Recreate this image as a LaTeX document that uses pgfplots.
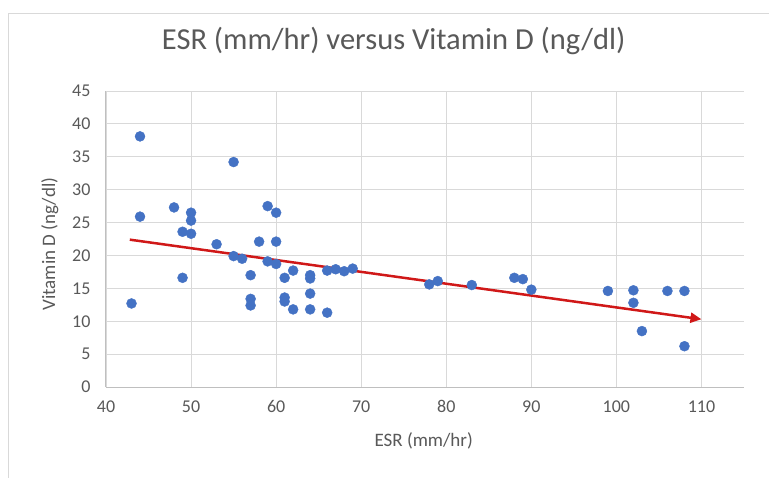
\documentclass[border=0pt]{standalone}
\usepackage{fontspec}
\setmainfont{Carlito}
\usepackage{pgfplots}
\pgfplotsset{compat=1.18}
\usetikzlibrary{arrows.meta}
\definecolor{txt}{HTML}{595959}
\definecolor{grd}{HTML}{D9D9D9}
\definecolor{axl}{HTML}{BFBFBF}
\definecolor{dots}{HTML}{4472C4}
\definecolor{trend}{HTML}{D01818}
\begin{document}
\begin{tikzpicture}[x=1pt,y=1pt]
\useasboundingbox (0pt,0pt) rectangle (769pt,477pt);
\fill[white] (0pt,0pt) rectangle (769pt,477pt);
\draw[grd, line width=1pt] (8pt,-5pt) -- (8pt,463.5pt) -- (775pt,463.5pt);
\begin{axis}[
  at={(106pt,90pt)}, anchor=south west,
  scale only axis, width=638pt, height=296pt,
  xmin=40, xmax=115, ymin=0, ymax=45,
  xtick={40,50,...,110}, ytick={0,5,...,45},
  grid=major, major grid style={grd, line width=0.9pt},
  axis x line*=bottom, axis y line*=left,
  axis line style={-, axl, line width=1pt},
  major tick length=0pt,
  /pgf/number format/assume math mode=true,
  tick label style={text=txt, font=\fontsize{18}{20}\selectfont},
  xticklabel style={yshift=-10pt},
  yticklabel style={xshift=-12pt},
  title={ESR (mm/hr) versus Vitamin D (ng/dl)},
  title style={at={(axis description cs:0.451,1.149)}, anchor=center, text=txt, font=\fontsize{30.5}{33}\selectfont},
  xlabel={ESR (mm/hr)},
  xlabel style={at={(axis description cs:0.498,-0.182)}, anchor=center, text=txt, font=\fontsize{19}{22}\selectfont},
  ylabel={Vitamin D (ng/dl)},
  ylabel style={at={(axis description cs:-0.088,0.483)}, anchor=center, rotate=0, text=txt, font=\fontsize{19}{22}\selectfont},
  clip=false,
]
\addplot[only marks, mark=*, mark size=5pt, color=dots, mark options={draw=dots, fill=dots}] coordinates {
(43,12.7) (44,38.1) (44,25.9) (48,27.3) (49,23.6) (49,16.6)
(50,26.5) (50,25.3) (50,23.3) (53,21.7) (55,34.2) (55,19.9)
(56,19.5) (57,17.0) (57,13.4) (57,12.4) (58,22.1) (59,27.5)
(59,19.1) (60,26.5) (60,22.1) (60,18.7) (61,16.6) (61,13.6)
(61,13.0) (62,17.7) (62,11.8) (64,17.0) (64,16.5) (64,14.2)
(64,11.8) (66,17.7) (66,11.3) (67,17.9) (68,17.6) (69,18.0)
(78,15.6) (79,16.1) (83,15.5) (88,16.6) (89,16.4) (90,14.8)
(99,14.6) (102,14.7) (102,12.8) (103,8.5) (106,14.6) (108,14.6)
(108,6.2)
};
\addplot[trend, line width=2.5pt, -{Triangle[length=11pt,width=10pt]}] coordinates {(42.8,22.4) (110,10.3)};
\end{axis}
\end{tikzpicture}
\end{document}
